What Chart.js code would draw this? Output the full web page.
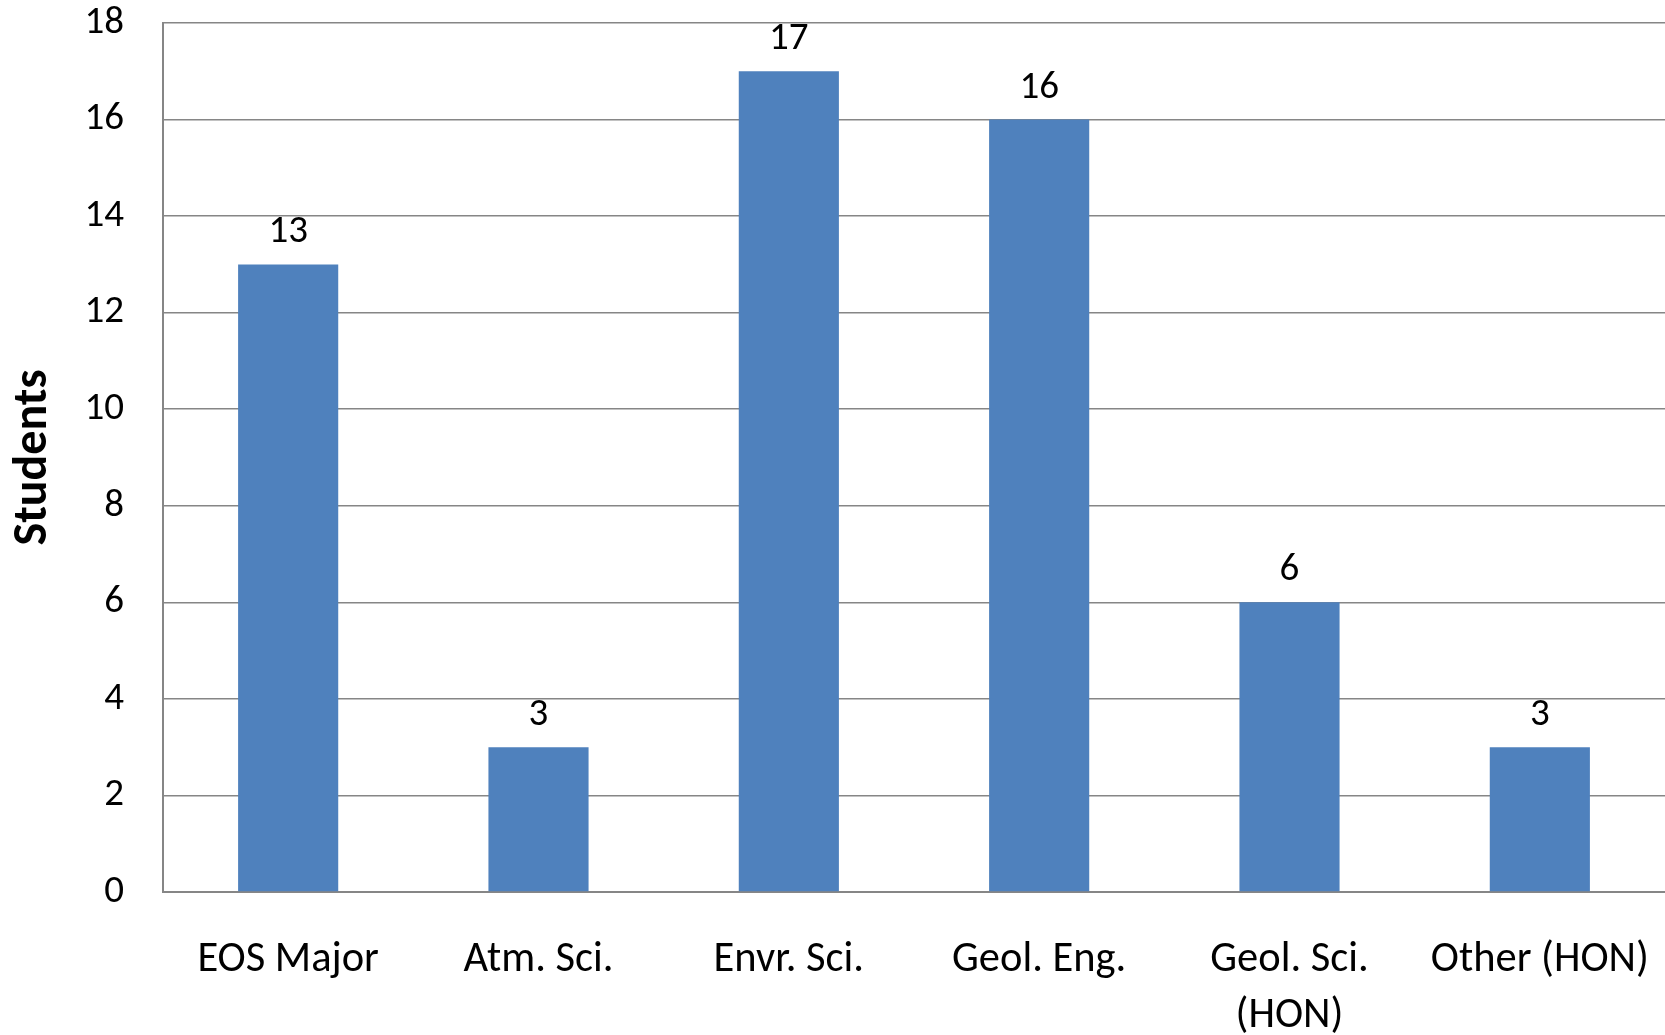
<!DOCTYPE html>
<html>
<head>
<meta charset="utf-8">
<script src="https://cdn.jsdelivr.net/npm/chart.js@4"></script>
<style>
  html, body { margin: 0; padding: 0; background: #fff; }
  #wrap { width: 1665px; height: 1035px; position: relative; }
</style>
</head>
<body>
<div id="wrap"><canvas id="studentsChart"></canvas></div>
<script>
// Data
const categories = [
  "EOS Major",
  "Atm. Sci.",
  "Envr. Sci.",
  "Geol. Eng.",
  ["Geol. Sci.", "(HON)"],
  "Other (HON)",
];
const students = [13, 3, 17, 16, 6, 3];
const yTicks = [0, 2, 4, 6, 8, 10, 12, 14, 16, 18];

const fontFamily = "Carlito, Calibri, Lato, sans-serif";

// value labels on top of each bar
const barValueLabels = {
  id: "barValueLabels",
  afterDatasetsDraw(chart) {
    const ctx = chart.ctx;
    const meta = chart.getDatasetMeta(0);
    ctx.save();
    ctx.font = `39px ${fontFamily}`;
    ctx.fillStyle = "#000";
    ctx.textAlign = "center";
    ctx.textBaseline = "alphabetic";
    meta.data.forEach((bar, i) => {
      ctx.fillText(String(students[i]), bar.x, bar.y - 22);
    });
    ctx.restore();
  },
};

// keep the plot box fixed: no extra padding from tick labels
function fixPadding(axis) {
  axis.paddingTop = 0;
  axis.paddingBottom = 0;
  axis.paddingLeft = 0;
  axis.paddingRight = 0;
}

function renderChart() {
  const ctx = document.getElementById("studentsChart").getContext("2d");
  new Chart(ctx, {
    type: "bar",
    data: {
      labels: categories,
      datasets: [
        {
          label: "Students",
          data: students,
          backgroundColor: "#4F81BD",
          borderWidth: 0,
          categoryPercentage: 1,
          barPercentage: 0.4,
        },
      ],
    },
    options: {
      responsive: true,
      maintainAspectRatio: false,
      animation: false,
      layout: {
        autoPadding: false,
        padding: { top: 23, right: 0, left: 0, bottom: 0 },
      },
      plugins: {
        legend: { display: false },
        tooltip: { enabled: false },
      },
      scales: {
        x: {
          afterFit: (axis) => {
            axis.height = 143;
            fixPadding(axis);
          },
          grid: { display: false, drawTicks: false },
          border: { color: "#868686", width: 2 },
          ticks: {
            color: "#000",
            font: { family: fontFamily, size: 42.5, lineHeight: 1.3 },
            padding: 41,
            maxRotation: 0,
            autoSkip: false,
          },
        },
        y: {
          min: 0,
          max: 18,
          afterBuildTicks: (axis) => {
            axis.ticks = yTicks.map((v) => ({ value: v }));
          },
          afterFit: (axis) => {
            axis.width = 163;
            fixPadding(axis);
          },
          grid: { color: "#868686", lineWidth: 1.5, drawTicks: false },
          border: { color: "#868686", width: 2 },
          ticks: {
            color: "#000",
            font: { family: fontFamily, size: 39 },
            padding: 39,
          },
          title: {
            display: true,
            text: "Students",
            color: "#000",
            font: { family: fontFamily, size: 48, weight: "bold" },
            padding: { top: 5, bottom: 0 },
          },
        },
      },
    },
    plugins: [barValueLabels],
  });
}

document.addEventListener("DOMContentLoaded", renderChart);
</script>
</body>
</html>
